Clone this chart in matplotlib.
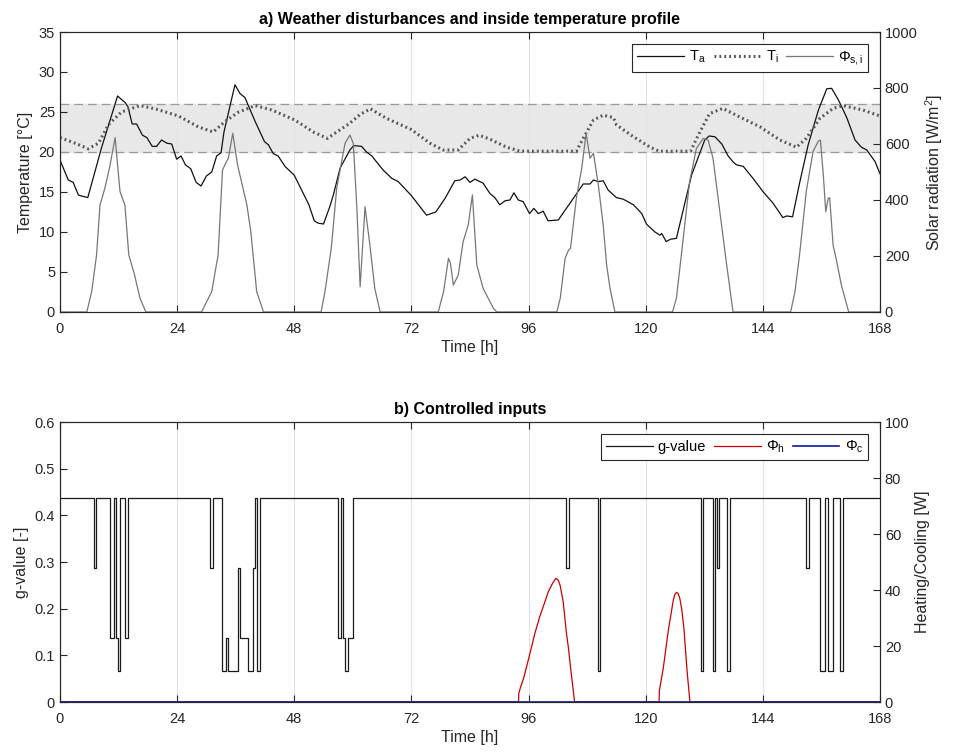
import matplotlib
matplotlib.use("Agg")
import matplotlib.pyplot as plt
from matplotlib.ticker import FormatStrFormatter

plt.rcParams['font.family'] = ['Liberation Sans', 'DejaVu Sans']
plt.rcParams['mathtext.fontset'] = 'custom'
plt.rcParams['mathtext.rm'] = 'Liberation Sans'
plt.rcParams['mathtext.it'] = 'Liberation Sans:italic'

# ---- data ----
# ambient temperature T_a [C]
ta_t = [0, 1.7, 2.7, 3.8, 5.7, 8.5, 11.8, 13.3, 13.9, 14.8, 15.7, 16.9, 17.8, 18.9, 19.8,
        20.8, 21.9, 22.9, 23.9, 24.8, 25.7, 26.8, 27.9, 28.9, 30.0, 31.1, 32.1, 33.0, 33.6,
        35.85, 36.9, 37.9, 40.0, 41.9, 42.7, 43.7, 44.7, 46.1, 48.0, 49.5, 51.0, 52.1, 52.9,
        54.0, 55.3, 56.0, 57.4, 59.4, 60.2, 61.8, 62.8, 63.9, 66.2, 68.0, 69.3, 72.0, 75.1,
        77.0, 78.9, 80.9, 82.0, 83.0, 84.0, 85.0, 86.7, 88.1, 89.1, 90.1, 91.2, 92.2, 93.0,
        93.9, 94.9, 96.2, 97.1, 98.0, 99.0, 100.0, 102.1, 104.5, 107.2, 108.6, 109.3, 110.3,
        111.3, 112.3, 114.0, 115.4, 117.5, 119.2, 120.2, 121.9, 122.9, 123.3, 124.2, 125.1,
        126.3, 129.4, 132.1, 133.0, 134.2, 135.6, 136.9, 138.0, 138.6, 140.0, 142.0, 144.1,
        146.1, 148.1, 148.9, 150.1, 151.6, 153.3, 155.4, 157.1, 158.1, 159.5, 161.2, 162.9,
        164.2, 165.3, 167.0, 168.0]
ta_v = [19.0, 16.5, 16.2, 14.6, 14.3, 20.5, 27.0, 26.2, 25.7, 23.5, 23.5, 22.1, 21.8, 20.7, 20.7,
        21.5, 21.1, 21.0, 19.1, 19.5, 18.4, 17.9, 16.2, 15.75, 17.0, 17.5, 19.5, 19.9, 22.5,
        28.4, 27.3, 26.8, 23.8, 21.3, 20.9, 19.8, 19.5, 18.2, 17.1, 15.25, 13.4, 11.4, 11.1,
        11.0, 13.2, 14.6, 18.0, 20.25, 20.8, 20.7, 20.0, 19.5, 17.75, 16.7, 16.3, 14.55, 12.1,
        12.5, 14.2, 16.4, 16.5, 16.9, 16.2, 16.6, 16.1, 14.8, 14.3, 13.4, 13.9, 14.0, 14.9,
        14.0, 13.8, 12.3, 12.95, 12.3, 12.6, 11.4, 11.5, 13.6, 16.0, 16.0, 16.5, 16.3,
        16.4, 15.25, 14.3, 14.1, 13.4, 12.3, 10.96, 10.0, 9.6, 9.8, 8.8, 9.1,
        9.2, 17.1, 21.5, 22.0, 21.9, 21.0, 19.5, 18.7, 18.4, 18.2, 16.7, 15.0,
        13.6, 11.8, 12.0, 11.9, 16.3, 20.9, 25.25, 27.9, 27.96, 26.5, 24.3, 21.5,
        20.6, 20.25, 18.8, 17.3]

# inside temperature T_i [C]
ti_t = [0, 3.1, 5.8, 7.9, 9.9, 12.6, 16.4, 19.5, 24.3, 28.3, 31.4, 33.8, 36.5, 40.0, 43.4,
        48.1, 51.9, 54.8, 56.7, 58.3, 59.4, 61.5, 63.6, 66.9, 72.0, 75.8, 78.5, 81.6, 84.0,
        85.9, 88.1, 91.5, 94.3, 105.8, 107.2, 109.3, 111.3, 113.4, 114.0, 117.5, 120.9,
        122.8, 129.2, 131.1, 133.1, 135.8, 139.2, 143.4, 147.5, 150.9, 152.9, 155.7, 158.4,
        160.4, 164.5, 168.0]
ti_v = [21.8, 21.1, 20.4, 21.1, 23.4, 25.0, 25.8, 25.4, 24.5, 23.15, 22.5, 23.8, 24.96, 25.8,
        25.25, 24.0, 22.5, 21.7, 22.5, 23.15, 23.6, 24.7, 25.4, 24.2, 22.8, 21.1, 20.25, 20.25,
        21.7, 22.1, 21.6, 20.6, 20.1, 20.1, 21.7, 24.0, 24.6, 24.3, 23.4, 21.9, 20.6,
        20.1, 20.1, 22.5, 24.8, 25.45, 24.4, 23.15, 21.5, 20.6, 21.7, 24.2, 25.45,
        25.8, 25.25, 24.5]

# solar radiation Phi_s,i [W/m2]
qs_t = [0, 5.5, 6.5, 7.5, 8.2, 9.2, 10.2, 11.3, 12.3, 13.3, 14.1, 15.2, 16.4, 17.6,
        29.0, 31.1, 32.4, 33.3, 34.1, 34.5, 35.4, 36.4, 38.3, 39.1, 40.3, 41.7,
        53.5, 54.3, 55.6, 56.7, 58.4, 59.4, 60.1, 60.8, 61.5, 62.5, 63.5, 64.5, 65.6,
        77.5, 78.6, 79.6, 80.0, 80.6, 81.6, 82.6, 83.65, 84.5, 85.4, 86.7, 88.8, 89.5,
        101.8, 102.5, 103.5, 104.2, 104.6, 105.8, 106.9, 107.8, 108.6, 109.3, 110.3, 111.3,
        112.0, 112.7, 113.7,
        125.5, 126.3, 127.7, 129.0, 130.4, 131.8, 132.8, 133.8, 135.2, 136.6, 137.9,
        149.7, 150.6, 151.6, 152.9, 154.3, 155.4, 155.8, 156.4, 156.9, 157.4, 157.7, 158.4,
        159.0, 160.1, 161.6, 168.0]
qs_v = [0, 0, 73, 204, 382, 442, 519, 623, 430, 382, 204, 138, 49, 0,
        0, 73, 204, 507, 537, 549, 638, 524, 382, 287, 73, 0,
        0, 73, 230, 442, 602, 632, 602, 382, 90, 376, 239, 84, 0,
        0, 73, 192, 174, 96, 132, 251, 311, 418, 168, 84, 13, 0,
        0, 49, 192, 221, 227, 406, 513, 638, 549, 567, 454, 311,
        168, 84, 0,
        0, 49, 263, 465, 584, 620, 614, 549, 358, 168, 0,
        0, 73, 215, 430, 573, 611, 614, 489, 358, 406, 408, 239,
        192, 96, 0, 0]

# g-value switching instants [h] and the level that starts there
g_t = [0, 7.03, 7.44, 10.31, 11.0, 11.4, 11.95, 12.36, 13.3, 13.86, 30.8, 31.35, 33.26,
       33.94, 34.49, 36.4, 36.95, 38.45, 39.54, 39.95, 40.36, 40.9, 57.02, 57.57, 58.05,
       58.46, 59.0, 59.96, 103.67, 104.2, 110.2, 110.6, 131.26, 131.8, 133.7, 134.26,
       134.67, 135.08, 136.72, 137.27, 152.84, 153.38, 155.7, 156.8, 157.35, 158.3,
       159.8, 160.35, 168.0]
g_v = [0.4375, 0.2875, 0.4375, 0.1375, 0.4375, 0.1375, 0.0656, 0.4375, 0.1375, 0.4375,
       0.2875, 0.4375, 0.0656, 0.1375, 0.0656, 0.2875, 0.1375, 0.0656, 0.2875, 0.4375,
       0.0656, 0.4375, 0.1375, 0.4375, 0.1375, 0.0656, 0.1375, 0.4375, 0.2875, 0.4375,
       0.0656, 0.4375, 0.0656, 0.4375, 0.0656, 0.4375, 0.2875, 0.4375, 0.0656, 0.4375,
       0.2875, 0.4375, 0.0656, 0.4375, 0.0656, 0.4375, 0.0656, 0.4375, 0.4375]

# heating Phi_h [W]
qh_t = [0, 93.95, 94.0, 94.4, 95.0, 95.6, 96.3, 97.3, 98.3, 99.2, 100.05, 100.9, 101.6,
        102.1, 102.5, 103.1, 103.6, 103.7, 104.2, 104.6, 105.44, 122.75, 122.8, 123.6,
        124.6, 125.2, 125.66, 126.0, 126.34, 126.7, 127.0, 127.4, 127.84, 128.5, 129.07,
        168.0]
qh_v = [0, 0, 3, 5.5, 8.5, 12.6, 17.4, 24.5, 30.5, 35.0, 39.4, 42.3, 44.2,
        43.5, 41.5, 35.8, 27.5, 25.5, 19.0, 12.5, 0, 0, 4, 12,
        25.1, 31.5, 36.4, 38.5, 39.2, 38.6, 37.0, 33.0, 26.3, 10.8, 0,
        0]

# cooling Phi_c [W]
qc_t = [0, 168]
qc_v = [0, 0]

comfort_low, comfort_high = 20, 26
hour_ticks = [0, 24, 48, 72, 96, 120, 144, 168]

axis_col = '#262626'


def style(ax, ax2):
    ax.set_xlim(0, 168)
    ax.set_xticks(hour_ticks)
    ax.grid(True, axis='x', color='#e3e3e3', linewidth=0.8)
    ax.set_axisbelow(True)
    ax.tick_params(direction='in', top=True, right=False, labelsize=10.5,
                   colors=axis_col, length=5)
    ax.tick_params(axis='x', pad=7)
    ax2.tick_params(direction='in', labelsize=10.5, colors=axis_col, length=5)
    for a in (ax, ax2):
        for s in a.spines.values():
            s.set_color(axis_col)
            s.set_linewidth(0.8)
    ax.set_xlabel('Time [h]', fontsize=11.5, color=axis_col, labelpad=3)


def add_legend(ax, handles):
    leg = ax.legend(handles=handles, loc='upper right', ncol=3, fontsize=10.5,
                    frameon=True, fancybox=False, edgecolor=axis_col, framealpha=1,
                    handlelength=3.2, columnspacing=0.55, handletextpad=0.35,
                    borderpad=0.35, borderaxespad=0.8)
    leg.get_frame().set_linewidth(0.8)
    return leg


fig = plt.figure(figsize=(9.55, 7.53), dpi=100)

# ---- a) weather disturbances ----
ax = fig.add_axes([0.0628, 0.5857, 0.8586, 0.3718])
ax2 = ax.twinx()
ax.axhspan(comfort_low, comfort_high, color='#e8e8e8', zorder=0)
ax.axhline(comfort_low, color='#999999', ls=(0, (7, 4)), lw=0.9, zorder=1)
ax.axhline(comfort_high, color='#999999', ls=(0, (7, 4)), lw=0.9, zorder=1)
l1, = ax.plot(ta_t, ta_v, color='#111111', lw=0.9, label='T$_\\mathrm{a}$')
l2, = ax.plot(ti_t, ti_v, color='#555555', lw=2.2, ls=(0, (0.6, 1.0)),
              label='T$_\\mathrm{i}$')
l3, = ax2.plot(qs_t, qs_v, color='#777777', lw=0.9, label='$\\Phi_{\\mathrm{s,i}}$')
ax.set_ylim(0, 35)
ax2.set_ylim(0, 1000)
ax.set_ylabel('Temperature [°C]', fontsize=11.5, color=axis_col)
ax2.set_ylabel('Solar radiation [W/m$^2$]', fontsize=11.5, color=axis_col)
ax.set_title('a) Weather disturbances and inside temperature profile',
             fontsize=11.5, fontweight='bold', pad=6)
style(ax, ax2)
add_legend(ax2, [l1, l2, l3])

# ---- b) controlled inputs ----
bx = fig.add_axes([0.0628, 0.0677, 0.8586, 0.3718])
bx2 = bx.twinx()
m1, = bx.step(g_t, g_v, where='post', color='#1a1a1a', lw=0.9, label='g-value')
m2, = bx2.plot(qh_t, qh_v, color='#cc0000', lw=0.9, label='$\\Phi_\\mathrm{h}$')
m3, = bx2.plot(qc_t, qc_v, color='#0a1a99', lw=1.2, label='$\\Phi_\\mathrm{c}$')
bx.set_ylim(0, 0.6)
bx.yaxis.set_major_formatter(FormatStrFormatter('%g'))
bx2.set_ylim(0, 100)
bx.set_ylabel('g-value [-]', fontsize=11.5, color=axis_col)
bx2.set_ylabel('Heating/Cooling [W]', fontsize=11.5, color=axis_col)
bx.set_title('b) Controlled inputs', fontsize=11.5, fontweight='bold', pad=6)
style(bx, bx2)
add_legend(bx2, [m1, m2, m3])

fig.savefig('out.png', dpi=100)
